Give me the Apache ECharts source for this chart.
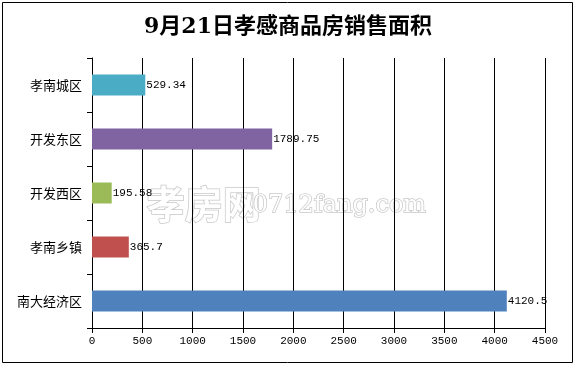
<!DOCTYPE html>
<html><head><meta charset="utf-8">
<script src="https://cdn.jsdelivr.net/npm/echarts@6/dist/echarts.min.js"></script>
<style>html,body{margin:0;padding:0;background:#fff}#c{width:576px;height:366px}</style>
</head><body><div id="c"></div>
<script>
const titleText = '9月21日孝感商品房销售面积';
const categories = ['孝南城区', '开发东区', '开发西区', '孝南乡镇', '南大经济区'];
const values = [529.34, 1789.75, 195.58, 365.7, 4120.5];
const valueLabels = ['529.34', '1789.75', '195.58', '365.7', '4120.5'];
const colors = ['#4BACC6', '#8064A2', '#9BBB59', '#C0504D', '#4F81BD'];
const xTicks = [0, 500, 1000, 1500, 2000, 2500, 3000, 3500, 4000, 4500];

const chart = echarts.init(document.getElementById('c'), null, {renderer: 'canvas'});
chart.setOption({
  animation: false,
  backgroundColor: '#fff',
  title: {
    text: titleText, left: 'center', top: 11,
    textStyle: {fontFamily: 'DejaVu Serif, "Noto Sans CJK SC"', fontWeight: 'bold', fontSize: 22, color: '#000'}
  },
  graphic: [
    {type: 'rect', shape: {x: 2.5, y: 2.5, width: 570, height: 360}, style: {fill: 'none', stroke: '#000', lineWidth: 1}, z: 100},
    {type: 'text', left: 146, top: 184, z: -1, silent: true,
     style: {text: '孝房网', font: 'bold 38px "Noto Sans CJK SC"', fill: '#fff', stroke: '#c8c8c8', lineWidth: 1.5}},
    {type: 'text', left: 252, top: 193, z: -1, silent: true,
     style: {text: '0712fang.com', font: '24px "DejaVu Serif"', fill: '#fff', stroke: '#c8c8c8', lineWidth: 1.5}}
  ],
  grid: {left: 92, right: 31, top: 58, bottom: 38, containLabel: false},
  xAxis: {
    type: 'value', min: xTicks[0], max: xTicks[xTicks.length - 1], interval: 500,
    axisLine: {show: true, lineStyle: {color: '#000', width: 1}},
    axisTick: {show: true, length: 5, lineStyle: {color: '#000'}},
    axisLabel: {color: '#000', fontSize: 11, fontFamily: '"Liberation Mono", monospace', margin: 8,
      formatter: v => String(v)},
    splitLine: {show: true, lineStyle: {color: '#000', width: 1}}
  },
  yAxis: {
    type: 'category', data: categories, inverse: true,
    axisLine: {show: true, lineStyle: {color: '#000', width: 1}},
    axisTick: {show: true, length: 5, lineStyle: {color: '#000'}},
    axisLabel: {color: '#000', fontSize: 13, fontFamily: '"Noto Sans CJK SC"', margin: 10},
    splitLine: {show: false}
  },
  series: [{
    type: 'bar', barWidth: 21,
    data: values.map((v, i) => ({value: v, itemStyle: {color: colors[i]}})),
    label: {
      show: true, position: 'right', distance: 1, color: '#000', fontSize: 11,
      fontFamily: '"Liberation Mono", monospace',
      formatter: p => valueLabels[p.dataIndex]
    }
  }]
});
</script></body></html>
